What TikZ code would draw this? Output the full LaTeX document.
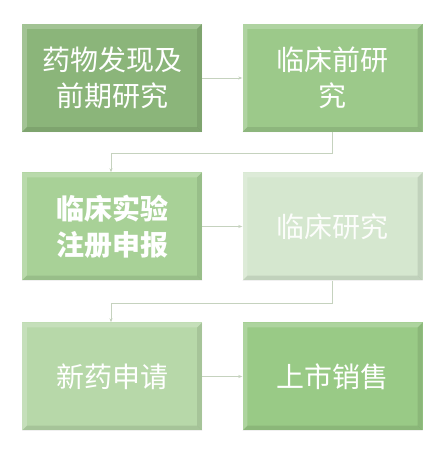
\documentclass[tikz,border=0pt]{standalone}
\usepackage{fontspec}
\newfontfamily\cjk{Noto Sans CJK SC}
\usetikzlibrary{arrows.meta}
\definecolor{cA}{HTML}{8BB57A}
\definecolor{cB}{HTML}{9CC98A}
\definecolor{cC}{HTML}{A8D197}
\definecolor{cD}{HTML}{D5E7CF}
\definecolor{cE}{HTML}{B7D8A9}
\definecolor{cF}{HTML}{99CA86}
\definecolor{link}{HTML}{C5D2BE}
\begin{document}
\begin{tikzpicture}[x=1pt,y=1pt,
  box/.style={minimum width=180pt,minimum height=108pt,inner sep=0pt,
    text=white,align=center,font=\cjk\fontsize{28}{36}\selectfont},
  bevlight/.style={fill=white,fill opacity=0.2},
  bevdark/.style={fill=black,fill opacity=0.09},
  conn/.style={draw=link,line width=0.8pt,-{Stealth[length=4pt,width=3pt]}}]
\useasboundingbox (0,0) rectangle (441,449);
\fill[white] (0,0) rectangle (441,449);
\node[box,fill=cA] (b1) at (112,371) {药物发现及\\前期研究};
\node[box,fill=cB] (b2) at (332.5,371) {临床前研\\究};
\node[box,fill=cC,font=\cjk\bfseries\fontsize{28}{36}\selectfont] (b3) at (112,222.5) {临床实验\\注册申报};
\node[box,fill=cD,text=white!92!cD] (b4) at (332.5,222.5) {临床研究};
\node[box,fill=cE] (b5) at (112,72.5) {新药申请};
\node[box,fill=cF] (b6) at (332.5,72.5) {上市销售};
\foreach \n in {b1,b2,b3,b4,b5,b6}{
  \fill[bevlight] (\n.north west) -- (\n.north east) -- ([shift={(-5,-5)}]\n.north east) -- ([shift={(5,-5)}]\n.north west) -- cycle;
  \fill[bevlight] (\n.north west) -- ([shift={(5,-5)}]\n.north west) -- ([shift={(5,5)}]\n.south west) -- (\n.south west) -- cycle;
  \fill[bevdark] (\n.south west) -- ([shift={(5,5)}]\n.south west) -- ([shift={(-5,5)}]\n.south east) -- (\n.south east) -- cycle;
  \fill[bevdark] (\n.south east) -- ([shift={(-5,5)}]\n.south east) -- ([shift={(-5,-5)}]\n.north east) -- (\n.north east) -- cycle;
}
\coordinate (k1) at (332.5,296);
\coordinate (k2) at (111,296);
\coordinate (k3) at (332.5,146);
\coordinate (k4) at (111,146);
\draw[conn] (b1.east) -- (b2.west);
\draw[conn] (b2.south) -- (k1) -- (k2) -- (k2 |- b3.north);
\draw[conn] (b3.east) -- (b4.west);
\draw[conn] (b4.south) -- (k3) -- (k4) -- (k4 |- b5.north);
\draw[conn] (b5.east) -- (b6.west);
\end{tikzpicture}
\end{document}
